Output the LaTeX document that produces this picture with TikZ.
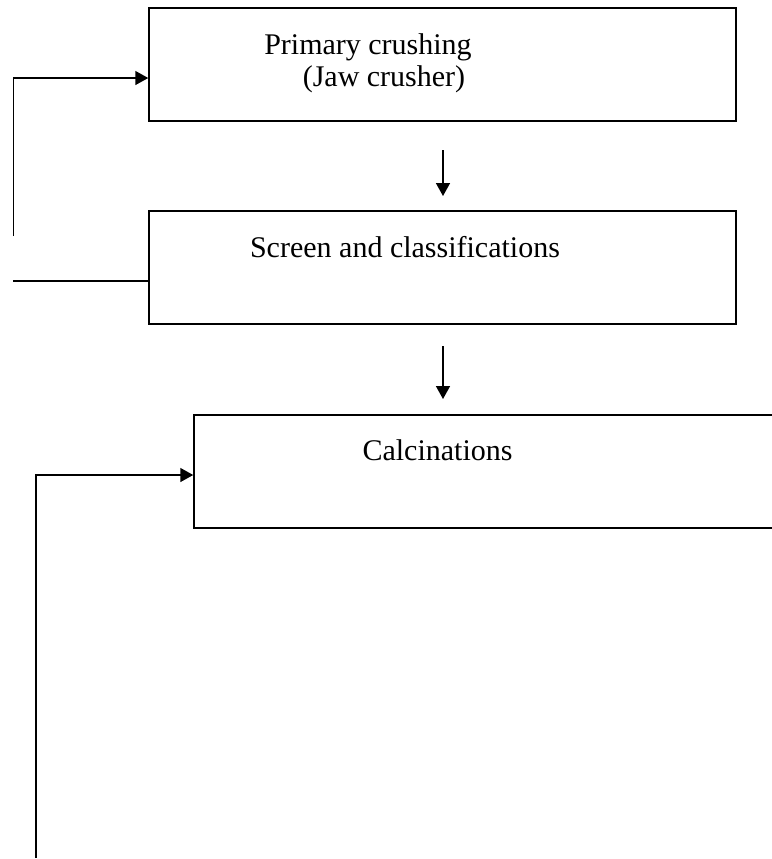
\documentclass[tikz,border=0pt]{standalone}
\usepackage{fontspec}
\setmainfont{Liberation Serif}
\usetikzlibrary{arrows.meta}
\begin{document}
\begin{tikzpicture}[x=0.5pt,y=-0.5pt,
  box/.style={draw,line width=0.75pt,rectangle,inner sep=0pt},
  lbl/.style={anchor=base,inner sep=0pt,font=\fontsize{15}{18}\selectfont},
  conn/.style={line width=0.75pt},
  arr/.style={conn,-{Triangle[length=6.5pt,width=7pt]}}]
\useasboundingbox (0,0) rectangle (772,859);
\clip (0,0) rectangle (772,859);
% boxes
\node[box,minimum width=293.5pt,minimum height=56.5pt] (b1) at (442.5,64.5) {};
\node[box,minimum width=293.5pt,minimum height=56.5pt] (b2) at (442.5,267.5) {};
\node[box,minimum width=291pt,minimum height=56.5pt] (b3) at (485,471.5) {};
% labels
\node[lbl] (t1) at (368,54) {Primary crushing};
\node[lbl] (t2) at (384,86) {(Jaw crusher)};
\node[lbl] (t3) at (405,257) {Screen and classifications};
\node[lbl] (t4) at (437.5,460) {Calcinations};
% free ends
\coordinate (a1s) at (443,150);
\coordinate (a1e) at (443,196);
\coordinate (a2s) at (443,346);
\coordinate (a2e) at (443,399);
\coordinate (l1s) at (13.5,236);
\coordinate (l1c) at (13.5,78);
\coordinate (l2s) at (13,281);
\coordinate (l3s) at (36,858);
\coordinate (l3c) at (36,475);
% connectors
\draw[arr] (a1s) -- (a1e);
\draw[arr] (a2s) -- (a2e);
\draw[arr] (l1s) -- (l1c) -- (b1.west |- l1c);
\draw[conn] (l2s) -- (b2.west |- l2s);
\draw[arr] (l3s) -- (l3c) -- (b3.west |- l3c);
\end{tikzpicture}
\end{document}
